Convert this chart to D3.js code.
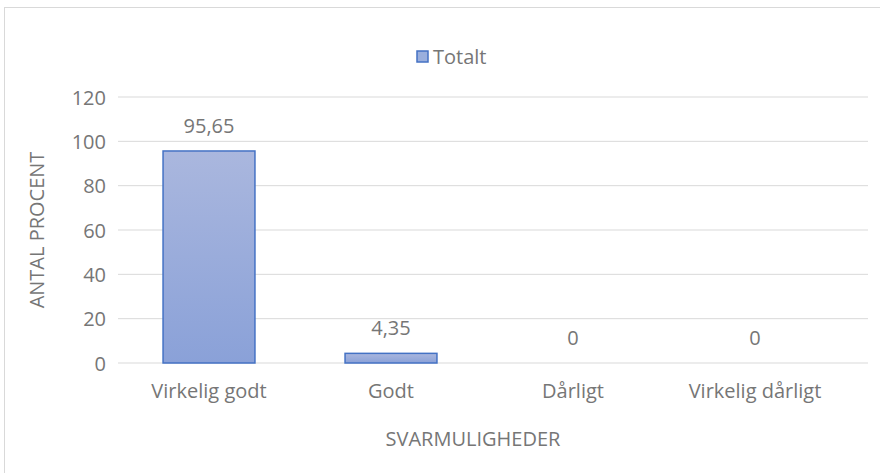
<!DOCTYPE html>
<html>
<head>
<meta charset="utf-8">
<script src="https://cdn.jsdelivr.net/npm/d3@7"></script>
<style>
  body { margin: 0; background: #fff; }
  text { font-family: "Open Sans", sans-serif; fill: #767676; }
</style>
</head>
<body>
<div id="chart"></div>
<script>
// data
const categories = ['Virkelig godt', 'Godt', 'Dårligt', 'Virkelig dårligt']
const values = [95.65, 4.35, 0, 0]
const valueLabels = ['95,65', '4,35', '0', '0']
const yTicks = [0, 20, 40, 60, 80, 100, 120]
const seriesName = 'Totalt'

const width = 880
const height = 473
const fontSize = '20px'

const svg = d3.select('#chart').append('svg')
  .attr('width', width)
  .attr('height', height)

// gradient for bars
const defs = svg.append('defs')
const grad = defs.append('linearGradient')
  .attr('id', 'barGrad')
  .attr('x1', 0).attr('y1', 0).attr('x2', 0).attr('y2', 1)
grad.append('stop').attr('offset', '0%').attr('stop-color', '#aab7de')
grad.append('stop').attr('offset', '100%').attr('stop-color', '#8aa1d8')

// outer chart border
svg.append('rect')
  .attr('x', 4.5).attr('y', 7.5)
  .attr('width', 900).attr('height', 500)
  .attr('fill', 'none')
  .attr('stroke', '#d9d9d9')

const plot = { left: 118, right: 846, gridRight: 868, top: 97, bottom: 363 }

const xScale = d3.scaleBand()
  .domain(categories)
  .range([plot.left, plot.right])
  .paddingInner(0.495)
  .paddingOuter(0.2475)

const yScale = d3.scaleLinear()
  .domain([0, 120])
  .range([plot.bottom, plot.top])

// gridlines
svg.append('g')
  .selectAll('line')
  .data(yTicks)
  .enter()
  .append('line')
  .attr('x1', plot.left)
  .attr('x2', plot.gridRight)
  .attr('y1', d => yScale(d))
  .attr('y2', d => yScale(d))
  .attr('stroke', '#d9d9d9')
  .attr('stroke-width', 1)

// y axis
const yAxis = d3.axisLeft(yScale).tickValues(yTicks).tickSize(0).tickPadding(12)
const gy = svg.append('g')
  .attr('transform', `translate(${plot.left},0)`)
  .call(yAxis)
gy.attr('font-family', null)
gy.select('.domain').remove()
gy.selectAll('text').style('font-size', fontSize).attr('dy', '0.35em')

// x axis
const xAxis = d3.axisBottom(xScale).tickSize(0).tickPadding(21)
const gx = svg.append('g')
  .attr('transform', `translate(0,${plot.bottom})`)
  .call(xAxis)
gx.attr('font-family', null)
gx.select('.domain').remove()
gx.selectAll('text').style('font-size', fontSize)

// bars
svg.append('g')
  .selectAll('rect')
  .data(values)
  .enter()
  .append('rect')
  .attr('x', (d, i) => xScale(categories[i]))
  .attr('width', xScale.bandwidth())
  .attr('y', d => yScale(d))
  .attr('height', d => plot.bottom - yScale(d))
  .attr('fill', 'url(#barGrad)')
  .attr('stroke', d => d > 0 ? '#4472c4' : 'none')
  .attr('stroke-width', 1.5)

// value labels
svg.append('g')
  .selectAll('text')
  .data(values)
  .enter()
  .append('text')
  .attr('x', (d, i) => xScale(categories[i]) + xScale.bandwidth() / 2)
  .attr('y', d => yScale(d) - 18)
  .attr('text-anchor', 'middle')
  .style('font-size', fontSize)
  .text((d, i) => valueLabels[i])

// legend
const legend = svg.append('g').attr('transform', 'translate(417,51)')
legend.append('rect')
  .attr('x', 0).attr('y', 0)
  .attr('width', 11).attr('height', 11)
  .attr('fill', '#9aafdd')
  .attr('stroke', '#4472c4')
  .attr('stroke-width', 1.5)
legend.append('text')
  .attr('x', 16).attr('y', 13)
  .style('font-size', fontSize)
  .text(seriesName)

// axis titles
svg.append('text')
  .attr('x', 473)
  .attr('y', 446)
  .attr('text-anchor', 'middle')
  .style('font-size', fontSize)
  .text('SVARMULIGHEDER')

svg.append('text')
  .attr('transform', `translate(44,${(plot.top + plot.bottom) / 2}) rotate(-90)`)
  .attr('text-anchor', 'middle')
  .style('font-size', fontSize)
  .text('ANTAL PROCENT')
</script>
</body>
</html>
